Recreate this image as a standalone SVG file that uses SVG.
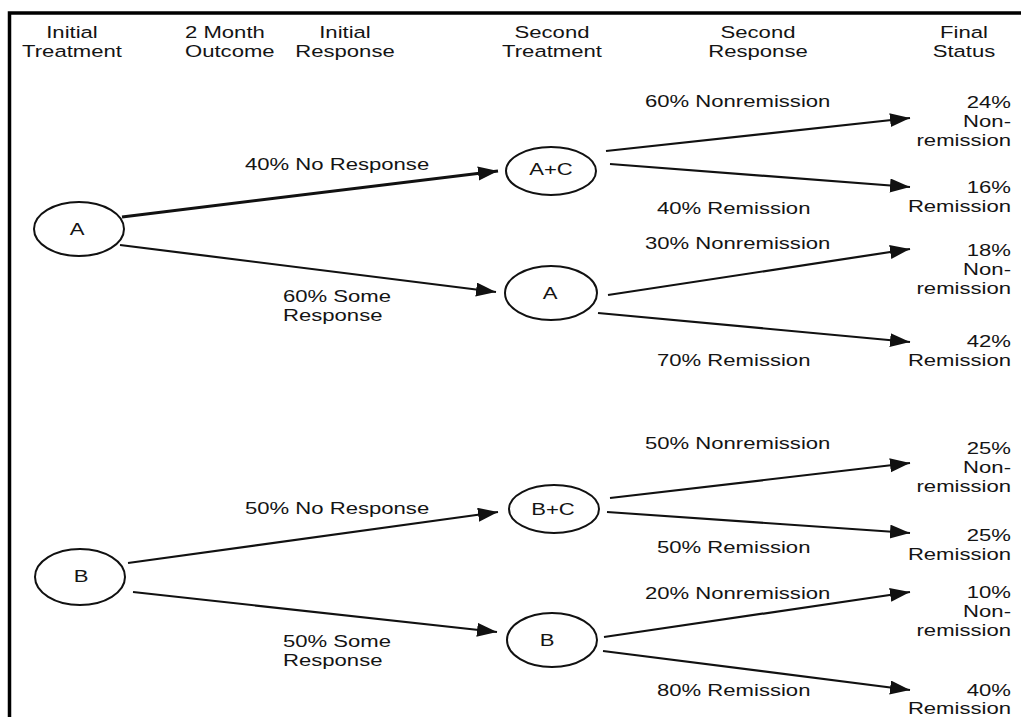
<svg xmlns="http://www.w3.org/2000/svg" width="1021" height="717" viewBox="0 0 1021 717">
  <defs>
    <style>
      text { font-family: "Liberation Sans", Arial, sans-serif; font-size: 17px; fill: #141414; }
      .c { text-anchor: middle; }
      .r { text-anchor: end; }
      .node ellipse { fill: #fff; stroke: #111; stroke-width: 2; }
      .edge { stroke: #111; stroke-width: 2.2; fill: none; marker-end: url(#head); }
      .frame { stroke: #000; stroke-width: 3.5; fill: none; }
    </style>
    <marker id="head" markerUnits="userSpaceOnUse" markerWidth="22" markerHeight="16" refX="20" refY="7" orient="auto">
      <path d="M0,0 L20,7 L0,14 z" fill="#111"/>
    </marker>
  </defs>

  <rect width="1021" height="717" fill="#fff"/>

  <!-- frame -->
  <path class="frame" d="M9.5,717 V13 H1021"/>

  <!-- column headings (text is drawn horizontally widened) -->
  <g id="headings">
    <text class="c" transform="matrix(1.3 0 0 1 72 0)"><tspan x="0" y="38">Initial</tspan><tspan x="0" y="57">Treatment</tspan></text>
    <text transform="matrix(1.3 0 0 1 185 0)"><tspan x="0" y="38">2 Month</tspan><tspan x="0" y="57">Outcome</tspan></text>
    <text class="c" transform="matrix(1.3 0 0 1 345 0)"><tspan x="0" y="38">Initial</tspan><tspan x="0" y="57">Response</tspan></text>
    <text class="c" transform="matrix(1.3 0 0 1 552 0)"><tspan x="0" y="38">Second</tspan><tspan x="0" y="57">Treatment</tspan></text>
    <text class="c" transform="matrix(1.3 0 0 1 758 0)"><tspan x="0" y="38">Second</tspan><tspan x="0" y="57">Response</tspan></text>
    <text class="c" transform="matrix(1.3 0 0 1 964 0)"><tspan x="0" y="38">Final</tspan><tspan x="0" y="57">Status</tspan></text>
  </g>

  <!-- connectors -->
  <g id="connectors">
    <line class="edge" x1="122" y1="217" x2="498" y2="171" style="stroke-width:3"/>
    <line class="edge" x1="120" y1="245" x2="496" y2="292"/>
    <line class="edge" x1="606" y1="151" x2="910" y2="118"/>
    <line class="edge" x1="610" y1="164" x2="910" y2="187"/>
    <line class="edge" x1="608" y1="295" x2="910" y2="249"/>
    <line class="edge" x1="598" y1="313" x2="910" y2="342"/>
    <line class="edge" x1="128" y1="563" x2="498" y2="512"/>
    <line class="edge" x1="133" y1="592" x2="497" y2="632"/>
    <line class="edge" x1="610" y1="498" x2="910" y2="463"/>
    <line class="edge" x1="607" y1="512" x2="910" y2="533"/>
    <line class="edge" x1="604" y1="637" x2="910" y2="592"/>
    <line class="edge" x1="603" y1="651" x2="910" y2="690"/>
  </g>

  <!-- connector labels -->
  <g id="edge-labels">
    <text transform="matrix(1.3 0 0 1 245 170)">40% No Response</text>
    <text transform="matrix(1.3 0 0 1 283 0)"><tspan x="0" y="302">60% Some</tspan><tspan x="0" y="321">Response</tspan></text>
    <text transform="matrix(1.3 0 0 1 645 107)">60% Nonremission</text>
    <text transform="matrix(1.3 0 0 1 657 214)">40% Remission</text>
    <text transform="matrix(1.3 0 0 1 645 249)">30% Nonremission</text>
    <text transform="matrix(1.3 0 0 1 657 366)">70% Remission</text>
    <text transform="matrix(1.3 0 0 1 245 514)">50% No Response</text>
    <text transform="matrix(1.3 0 0 1 283 0)"><tspan x="0" y="647">50% Some</tspan><tspan x="0" y="666">Response</tspan></text>
    <text transform="matrix(1.3 0 0 1 645 449)">50% Nonremission</text>
    <text transform="matrix(1.3 0 0 1 657 553)">50% Remission</text>
    <text transform="matrix(1.3 0 0 1 645 599)">20% Nonremission</text>
    <text transform="matrix(1.3 0 0 1 657 696)">80% Remission</text>
  </g>

  <!-- treatment nodes -->
  <g id="node-a" class="node">
    <ellipse cx="79" cy="229" rx="45" ry="27"/>
    <text class="c" transform="matrix(1.3 0 0 1 77 235)">A</text>
  </g>
  <g id="node-ac" class="node">
    <ellipse cx="551" cy="171" rx="45" ry="24"/>
    <text class="c" transform="matrix(1.3 0 0 1 551 175)">A+C</text>
  </g>
  <g id="node-a2" class="node">
    <ellipse cx="551" cy="293" rx="46" ry="27"/>
    <text class="c" transform="matrix(1.3 0 0 1 550 299)">A</text>
  </g>
  <g id="node-b" class="node">
    <ellipse cx="80" cy="577" rx="45" ry="28"/>
    <text class="c" transform="matrix(1.3 0 0 1 81 582)">B</text>
  </g>
  <g id="node-bc" class="node">
    <ellipse cx="554" cy="509" rx="45" ry="24"/>
    <text class="c" transform="matrix(1.3 0 0 1 553 515)">B+C</text>
  </g>
  <g id="node-b2" class="node">
    <ellipse cx="552" cy="640" rx="45" ry="27"/>
    <text class="c" transform="matrix(1.3 0 0 1 547 646)">B</text>
  </g>

  <!-- final status outcomes -->
  <g id="outcome-a1">
    <text class="r" transform="matrix(1.3 0 0 1 1011 0)"><tspan x="0" y="108">24%</tspan><tspan x="0" y="127">Non-</tspan><tspan x="0" y="146">remission</tspan></text>
  </g>
  <g id="outcome-a2">
    <text class="r" transform="matrix(1.3 0 0 1 1011 0)"><tspan x="0" y="193">16%</tspan><tspan x="0" y="212">Remission</tspan></text>
  </g>
  <g id="outcome-a3">
    <text class="r" transform="matrix(1.3 0 0 1 1011 0)"><tspan x="0" y="256">18%</tspan><tspan x="0" y="275">Non-</tspan><tspan x="0" y="294">remission</tspan></text>
  </g>
  <g id="outcome-a4">
    <text class="r" transform="matrix(1.3 0 0 1 1011 0)"><tspan x="0" y="347">42%</tspan><tspan x="0" y="366">Remission</tspan></text>
  </g>
  <g id="outcome-b1">
    <text class="r" transform="matrix(1.3 0 0 1 1011 0)"><tspan x="0" y="454">25%</tspan><tspan x="0" y="473">Non-</tspan><tspan x="0" y="492">remission</tspan></text>
  </g>
  <g id="outcome-b2">
    <text class="r" transform="matrix(1.3 0 0 1 1011 0)"><tspan x="0" y="541">25%</tspan><tspan x="0" y="560">Remission</tspan></text>
  </g>
  <g id="outcome-b3">
    <text class="r" transform="matrix(1.3 0 0 1 1011 0)"><tspan x="0" y="598">10%</tspan><tspan x="0" y="617">Non-</tspan><tspan x="0" y="636">remission</tspan></text>
  </g>
  <g id="outcome-b4">
    <text class="r" transform="matrix(1.3 0 0 1 1011 0)"><tspan x="0" y="696">40%</tspan><tspan x="0" y="714">Remission</tspan></text>
  </g>
</svg>
